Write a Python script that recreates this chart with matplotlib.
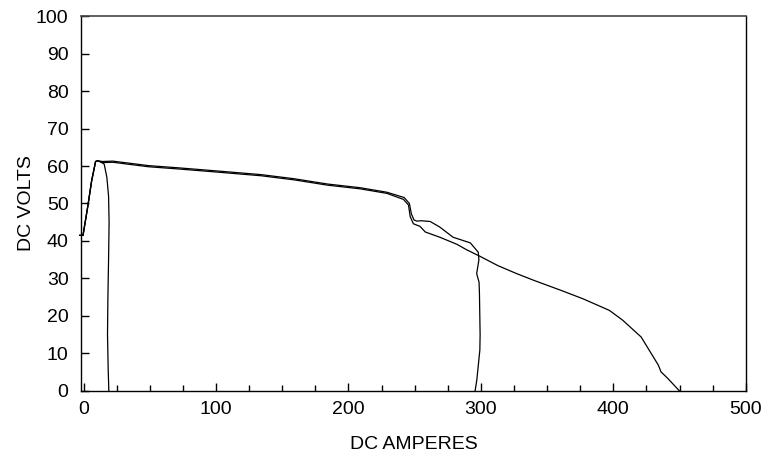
import matplotlib.pyplot as plt
from matplotlib.ticker import MultipleLocator

plt.rcParams['font.family'] = ['Liberation Sans', 'DejaVu Sans']

# ==== DATA ====

# run 1: full sweep down the lower branch to short circuit at ~450 A
amps_a = [-3, -0.5, 3, 6, 9, 10.5, 14, 22, 49, 72, 100, 134, 159, 184, 209, 229,
          241.5, 245.3, 246.6, 249, 254, 258, 269, 282, 289, 299.4, 313, 327,
          340, 360, 377, 397, 407, 421, 434, 436, 441, 450]
volts_a = [41.5, 41.5, 49, 56, 61.2, 61.4, 60.9, 61.0, 59.8, 59.2, 58.4, 57.4,
           56.3, 54.9, 53.9, 52.7, 51.1, 49.6, 46.5, 44.6, 43.9, 42.4, 41.0,
           39.1, 37.7, 35.9, 33.4, 31.3, 29.5, 26.9, 24.6, 21.5, 18.9, 14.4,
           6.9, 5.1, 3.4, 0.0]

# run 2: drops out right after the peak
amps_b = [-3, -0.5, 3, 6, 9, 10.5, 13, 15.5, 17.5, 18.8, 19.2, 18.8, 18.3, 18.0, 18.5, 19.0]
volts_b = [41.5, 41.5, 49, 56, 61.2, 61.4, 61.1, 60.5, 57, 52, 45, 35, 25, 15, 6, 0]

# run 3: upper branch, drops out at ~298 A
amps_c = [-3, -0.5, 3, 6, 9, 10.5, 14, 22, 49, 72, 100, 134, 159, 184, 209, 229,
          242, 246, 247.5, 249.5, 251.6, 255, 261.7, 269, 279, 292, 298, 298.5,
          296.8, 298.6, 298.9, 299.4, 299.2, 296.9, 295.6]
volts_c = [41.5, 41.5, 49, 56, 61.2, 61.4, 61.2, 61.3, 60.1, 59.5, 58.7, 57.7,
           56.6, 55.2, 54.2, 53.0, 51.6, 50.0, 47.2, 45.6, 45.3, 45.4, 45.2,
           43.7, 41.0, 39.5, 37.0, 35.0, 31.3, 29.0, 26.0, 15.0, 10.9, 2.9, 0.0]

# ==== PLOT ====

fig = plt.figure(figsize=(7.68, 4.55), dpi=100)
ax = fig.add_axes([0.1055, 0.1407, 0.8655, 0.8241])

for amps, volts in [(amps_a, volts_a), (amps_b, volts_b), (amps_c, volts_c)]:
    ax.plot(amps, volts, color='black', linewidth=0.9, clip_on=False)

ax.set_xlim(-2, 500)
ax.set_ylim(0, 100)

ax.xaxis.set_major_locator(MultipleLocator(100))
ax.xaxis.set_minor_locator(MultipleLocator(25))
ax.yaxis.set_major_locator(MultipleLocator(10))

ax.tick_params(axis='both', which='both', direction='in', top=False, right=False,
               color='black', width=1, labelsize=14)
ax.tick_params(axis='x', which='major', length=6, pad=7)
ax.tick_params(axis='x', which='minor', length=4)
ax.tick_params(axis='y', which='major', length=6, pad=9)

for side in ['left', 'bottom', 'right']:
    ax.spines[side].set_linewidth(1)
    ax.spines[side].set_color('black')
ax.spines['top'].set_linewidth(1.2)
ax.spines['top'].set_color('#444444')

ax.set_xlabel("DC AMPERES", fontsize=14, labelpad=13)
ax.set_ylabel("DC VOLTS", fontsize=14, labelpad=1)

fig.savefig("out.png", dpi=100)
